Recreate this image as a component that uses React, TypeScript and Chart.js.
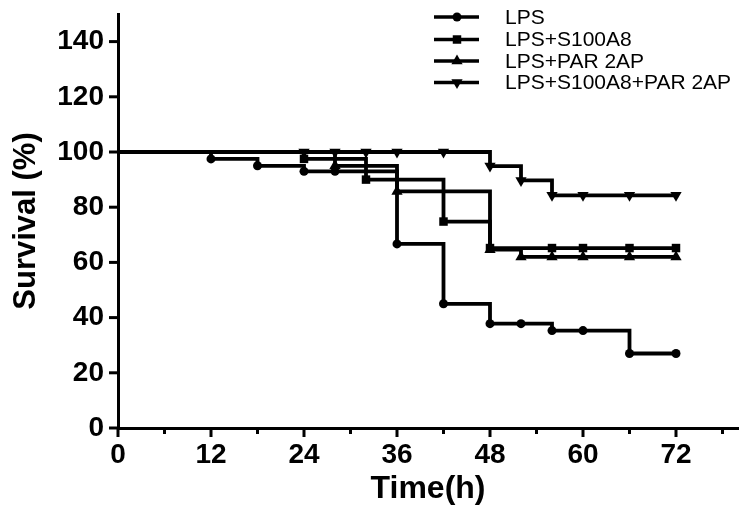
import React, { useEffect, useRef } from "react";
import { Chart, registerables } from "chart.js";

Chart.register(...registerables);

// ---- data ----
const seriesLabels = ["LPS", "LPS+S100A8", "LPS+PAR 2AP", "LPS+S100A8+PAR 2AP"];

const lpsTime = [0, 12, 18, 24, 28, 36, 42, 48, 52, 56, 60, 66, 72];
const lpsSurv = [100, 97.5, 95, 93, 93, 66.7, 45, 37.8, 37.8, 35.3, 35.3, 27, 27];

const s100Time = [0, 24, 32, 42, 48, 56, 60, 66, 72];
const s100Surv = [100, 97.5, 90, 74.8, 65.2, 65.2, 65.2, 65.2, 65.2];

const parTime = [0, 28, 36, 48, 52, 56, 60, 66, 72];
const parSurv = [100, 95, 85.7, 64.6, 62, 62, 62, 62, 62];

const comboTime = [0, 24, 28, 32, 36, 42, 48, 52, 56, 60, 66, 72];
const comboSurv = [100, 100, 100, 100, 100, 100, 94.9, 89.7, 84.3, 84.3, 84.3, 84.3];

const xTickStep = 6;
const xLabelStep = 12;
const yTickStep = 20;

const FONT = "'Liberation Sans', Arial, Helvetica, sans-serif";

type Marker = { style: string; radius: number; rotation: number };
const markers: Marker[] = [
  { style: "circle", radius: 4.5, rotation: 0 },
  { style: "rect", radius: 6, rotation: 0 },
  { style: "triangle", radius: 6.5, rotation: 0 },
  { style: "triangle", radius: 6.5, rotation: 180 },
];

function toPoints(t: number[], s: number[]) {
  return t.map((x, i) => ({ x, y: s[i] }));
}

function drawMarker(ctx: CanvasRenderingContext2D, m: Marker, x: number, y: number) {
  ctx.save();
  ctx.fillStyle = "#000";
  ctx.translate(x, y);
  ctx.rotate((m.rotation * Math.PI) / 180);
  ctx.beginPath();
  const r = m.radius;
  if (m.style === "circle") {
    ctx.arc(0, 0, r, 0, Math.PI * 2);
  } else if (m.style === "rect") {
    const s = r * Math.SQRT1_2;
    ctx.rect(-s, -s, 2 * s, 2 * s);
  } else {
    for (let k = 0; k < 3; k++) {
      const a = -Math.PI / 2 + (k * 2 * Math.PI) / 3;
      const px = r * Math.cos(a);
      const py = r * Math.sin(a);
      if (k === 0) ctx.moveTo(px, py);
      else ctx.lineTo(px, py);
    }
    ctx.closePath();
  }
  ctx.fill();
  ctx.restore();
}

const axisTicksAndLegend = {
  id: "axisTicksAndLegend",
  afterDraw(chart: any) {
    const ctx: CanvasRenderingContext2D = chart.ctx;
    const xs = chart.scales.x;
    const ys = chart.scales.y;
    const area = chart.chartArea;
    ctx.save();
    ctx.strokeStyle = "#000";
    ctx.lineWidth = 3;
    ctx.lineCap = "butt";
    xs.ticks.forEach((t: any) => {
      const px = xs.getPixelForValue(t.value);
      const len = t.value % xLabelStep === 0 ? 9 : 6;
      ctx.beginPath();
      ctx.moveTo(px, area.bottom);
      ctx.lineTo(px, area.bottom + len);
      ctx.stroke();
    });
    ys.ticks.forEach((t: any) => {
      const py = ys.getPixelForValue(t.value);
      ctx.beginPath();
      ctx.moveTo(area.left - 9, py);
      ctx.lineTo(area.left, py);
      ctx.stroke();
    });

    // legend
    const rowsY = [17, 39.5, 61, 82.5];
    chart.data.datasets.forEach((ds: any, i: number) => {
      const y = rowsY[i];
      ctx.lineWidth = 3.5;
      ctx.beginPath();
      ctx.moveTo(434, y);
      ctx.lineTo(479, y);
      ctx.stroke();
      drawMarker(ctx, markers[i], 457, y);
      ctx.fillStyle = "#000";
      ctx.font = `21px ${FONT}`;
      ctx.textBaseline = "middle";
      ctx.textAlign = "left";
      ctx.fillText(ds.label, 505, y + 1);
    });
    ctx.restore();
  },
};

export default function App() {
  const canvasRef = useRef<HTMLCanvasElement | null>(null);

  useEffect(() => {
    if (!canvasRef.current) return;
    const sets = [
      toPoints(lpsTime, lpsSurv),
      toPoints(s100Time, s100Surv),
      toPoints(parTime, parSurv),
      toPoints(comboTime, comboSurv),
    ];
    const chart = new Chart(canvasRef.current, {
      type: "line",
      data: {
        datasets: sets.map((pts, i) => ({
          label: seriesLabels[i],
          data: pts,
          stepped: "before" as const,
          borderColor: "#000",
          backgroundColor: "#000",
          borderWidth: 3.8,
          fill: false,
          pointStyle: markers[i].style as any,
          pointRotation: markers[i].rotation,
          pointRadius: (c: any) => (c.dataIndex === 0 ? 0 : markers[i].radius),
          pointBorderWidth: 0,
          pointBackgroundColor: "#000",
          pointHoverRadius: 0,
        })),
      },
      options: {
        animation: false,
        responsive: true,
        maintainAspectRatio: false,
        layout: { padding: { top: 14, right: 12, left: 0, bottom: 0 } },
        plugins: {
          legend: { display: false },
          tooltip: { enabled: false },
        },
        events: [],
        scales: {
          x: {
            type: "linear",
            min: 0,
            max: 80,
            grid: { display: false, drawTicks: false },
            border: { display: true, color: "#000", width: 3 },
            afterFit: (s: any) => {
              s.height = 103;
              s.paddingLeft = 0;
              s.paddingRight = 0;
            },
            ticks: {
              stepSize: xTickStep,
              includeBounds: false,
              autoSkip: false,
              maxRotation: 0,
              padding: 10,
              color: "#000",
              font: { family: FONT, size: 28, weight: "bold" },
              callback: (v: any) => (Number(v) % xLabelStep === 0 ? String(v) : ""),
            },
            title: {
              display: true,
              text: "Time(h)",
              color: "#000",
              font: { family: FONT, size: 32, weight: "bold" },
              padding: { top: 0, bottom: 23 },
            },
          },
          y: {
            type: "linear",
            min: 0,
            max: 150,
            grid: { display: false, drawTicks: false },
            border: { display: true, color: "#000", width: 3 },
            afterFit: (s: any) => {
              s.width = 118;
              s.paddingTop = 0;
              s.paddingBottom = 0;
            },
            ticks: {
              stepSize: yTickStep,
              includeBounds: false,
              padding: 14,
              color: "#000",
              font: { family: FONT, size: 28, weight: "bold" },
            },
            title: {
              display: true,
              text: "Survival (%)",
              color: "#000",
              font: { family: FONT, size: 31, weight: "bold" },
              padding: { top: 8, bottom: 0 },
            },
          },
        },
      },
      plugins: [axisTicksAndLegend],
    });
    return () => chart.destroy();
  }, []);

  return (
    <div style={{ position: "absolute", left: 0, top: 0, width: 750, height: 531, background: "#fff" }}>
      <canvas ref={canvasRef} />
    </div>
  );
}
